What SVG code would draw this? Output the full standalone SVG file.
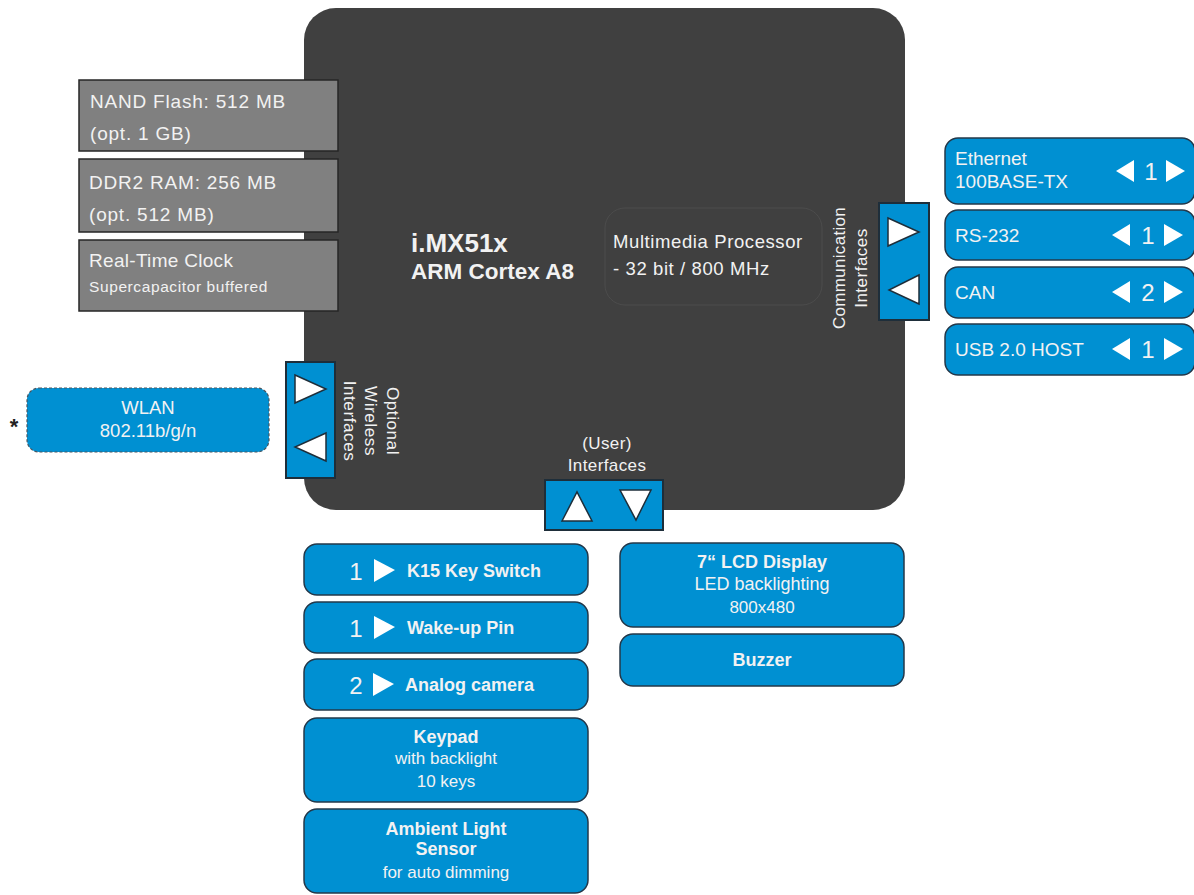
<svg xmlns="http://www.w3.org/2000/svg" width="1194" height="895" viewBox="0 0 1194 895">
<style>
text{font-family:"Liberation Sans",Arial,sans-serif;fill:#f2f2f2}
.mem{fill:#808080;stroke:#262626;stroke-width:1.5}
.blue{fill:#0090d2;stroke:#23384a;stroke-width:1.5}
.port{fill:#0090d2;stroke:#1e2e3a;stroke-width:2}
.tri{fill:#ffffff;stroke:#1e2e3a;stroke-width:1.5}
.wtri{fill:#ffffff}
.lbl{font-size:19px}
.num{font-size:24px}
.b{font-weight:bold}
.c{text-anchor:middle}
</style>
<rect width="1194" height="895" fill="#ffffff"/>

<g id="cpu">
<rect x="304" y="8" width="601" height="502" rx="32" fill="#404040"/>
<text x="411" y="252" class="b" font-size="26">i.MX51x</text>
<text x="411" y="279" class="b" font-size="22.5">ARM Cortex A8</text>
</g>

<g id="multimedia">
<rect x="605" y="208" width="217" height="97" rx="20" fill="#404040" stroke="#4c4c4c" stroke-width="1"/>
<text x="613" y="248" font-size="18.5" letter-spacing="0.6">Multimedia Processor</text>
<text x="613" y="275" font-size="18.5" letter-spacing="0.6">- 32 bit / 800 MHz</text>
</g>

<g id="nand">
<rect class="mem" x="79" y="80" width="259" height="71"/>
<text x="90" y="108" font-size="19" letter-spacing="0.8">NAND Flash: 512 MB</text>
<text x="90" y="140" font-size="19" letter-spacing="0.8">(opt. 1 GB)</text>
</g>
<g id="ddr2">
<rect class="mem" x="79" y="159" width="259" height="73"/>
<text x="89" y="189" font-size="19" letter-spacing="0.8">DDR2 RAM: 256 MB</text>
<text x="89" y="221" font-size="19" letter-spacing="0.8">(opt. 512 MB)</text>
</g>
<g id="rtc">
<rect class="mem" x="79" y="240" width="259" height="71"/>
<text x="89" y="267" font-size="19" letter-spacing="0.3">Real-Time Clock</text>
<text x="89" y="292" font-size="15.5" letter-spacing="0.6">Supercapacitor buffered</text>
</g>

<g id="comm-interfaces">
<rect class="port" x="879" y="203" width="50" height="117"/>
<polygon class="tri" points="888,218 919,232 888,246"/>
<polygon class="tri" points="919,275 889,290 919,304"/>
<text transform="translate(845,268) rotate(-90)" class="c" font-size="17" letter-spacing="0.3">Communication</text>
<text transform="translate(867,268) rotate(-90)" class="c" font-size="17" letter-spacing="0.5">Interfaces</text>
</g>

<g id="ethernet">
<rect class="blue" x="945" y="138" width="250" height="66" rx="13"/>
<text x="955" y="165" class="lbl">Ethernet</text>
<text x="955" y="188" class="lbl">100BASE-TX</text>
<polygon class="wtri" points="1134,160 1116,171 1134,182"/>
<text x="1151" y="180" class="num c">1</text>
<polygon class="wtri" points="1166,160 1185,171 1166,182"/>
</g>
<g id="rs232">
<rect class="blue" x="945" y="210" width="250" height="50" rx="13"/>
<text x="955" y="242" class="lbl">RS-232</text>
<polygon class="wtri" points="1130,224 1112,235 1130,246"/>
<text x="1148" y="244" class="num c">1</text>
<polygon class="wtri" points="1164,224 1183,235 1164,246"/>
</g>
<g id="can">
<rect class="blue" x="945" y="267" width="250" height="51" rx="13"/>
<text x="955" y="299" class="lbl">CAN</text>
<polygon class="wtri" points="1130,281 1112,292 1130,303"/>
<text x="1148" y="301" class="num c">2</text>
<polygon class="wtri" points="1164,281 1183,292 1164,303"/>
</g>
<g id="usb">
<rect class="blue" x="945" y="324" width="250" height="51" rx="13"/>
<text x="955" y="356" class="lbl">USB 2.0 HOST</text>
<polygon class="wtri" points="1130,338 1112,349 1130,360"/>
<text x="1148" y="358" class="num c">1</text>
<polygon class="wtri" points="1164,338 1183,349 1164,360"/>
</g>

<g id="wireless-interfaces">
<rect class="port" x="286" y="362" width="49" height="116"/>
<polygon class="tri" points="295,375 326,389 295,403"/>
<polygon class="tri" points="326,433 295,447 326,461"/>
<text transform="translate(387,421) rotate(90)" class="c" font-size="17" letter-spacing="0.6">Optional</text>
<text transform="translate(365,421) rotate(90)" class="c" font-size="17" letter-spacing="0.6">Wireless</text>
<text transform="translate(344,421) rotate(90)" class="c" font-size="17" letter-spacing="0.6">Interfaces</text>
</g>

<g id="wlan">
<rect x="27" y="388" width="242" height="64" rx="12" fill="#0090d2" stroke="#4a5660" stroke-width="1.2" stroke-dasharray="3 2"/>
<text x="148" y="414" class="c" font-size="18.5">WLAN</text>
<text x="148" y="437" class="c" font-size="18.5">802.11b/g/n</text>
<text x="14" y="434" class="c b" font-size="22" style="fill:#222">*</text>
</g>

<g id="user-interfaces">
<text x="607" y="449" class="c" font-size="17" letter-spacing="0.4">(User)</text>
<text x="607" y="471" class="c" font-size="17" letter-spacing="0.4">Interfaces</text>
<rect class="port" x="545" y="480" width="118" height="50"/>
<polygon class="tri" points="562,521 577,492 592,521"/>
<polygon class="tri" points="620,490 651,490 636,520"/>
</g>

<g id="k15">
<rect class="blue" x="304" y="544" width="284" height="51" rx="13"/>
<text x="356" y="580" class="num c">1</text>
<polygon class="wtri" points="374,559 395,570 374,582"/>
<text x="407" y="577" class="b" font-size="18">K15 Key Switch</text>
</g>
<g id="wakeup">
<rect class="blue" x="304" y="602" width="284" height="51" rx="13"/>
<text x="356" y="637" class="num c">1</text>
<polygon class="wtri" points="374,616 395,627 374,639"/>
<text x="407" y="634" class="b" font-size="18">Wake-up Pin</text>
</g>
<g id="camera">
<rect class="blue" x="304" y="659" width="284" height="51" rx="13"/>
<text x="356" y="694" class="num c">2</text>
<polygon class="wtri" points="373,673 394,684 373,696"/>
<text x="405" y="691" class="b" font-size="18">Analog camera</text>
</g>
<g id="keypad">
<rect class="blue" x="304" y="718" width="284" height="84" rx="13"/>
<text x="446" y="743" class="c b" font-size="18">Keypad</text>
<text x="446" y="764" class="c" font-size="17">with backlight</text>
<text x="446" y="787" class="c" font-size="17">10 keys</text>
</g>
<g id="ambient">
<rect class="blue" x="304" y="809" width="284" height="84" rx="13"/>
<text x="446" y="835" class="c b" font-size="18">Ambient Light</text>
<text x="446" y="855" class="c b" font-size="18">Sensor</text>
<text x="446" y="878" class="c" font-size="17">for auto dimming</text>
</g>
<g id="lcd">
<rect class="blue" x="620" y="543" width="284" height="84" rx="13"/>
<text x="762" y="568" class="c b" font-size="18">7“ LCD Display</text>
<text x="762" y="590" class="c" font-size="18">LED backlighting</text>
<text x="762" y="613" class="c" font-size="17">800x480</text>
</g>
<g id="buzzer">
<rect class="blue" x="620" y="634" width="284" height="52" rx="13"/>
<text x="762" y="666" class="c b" font-size="18">Buzzer</text>
</g>
</svg>
